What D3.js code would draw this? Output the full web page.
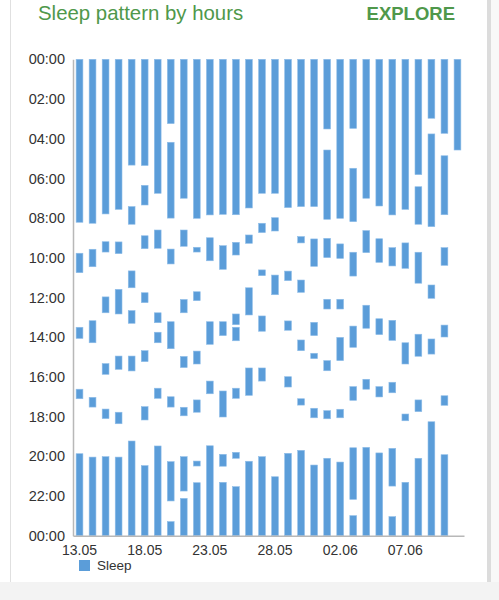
<!DOCTYPE html>
<html>
<head>
<meta charset="utf-8">
<script src="https://cdn.jsdelivr.net/npm/d3@7"></script>
<style>
  html, body { margin: 0; padding: 0; background: #ffffff; }
  svg { display: block; font-family: "Liberation Sans", Arial, Helvetica, sans-serif; }
</style>
</head>
<body>
<svg id="chart" width="499" height="600"></svg>
<script>
// ---- Data ----
const days = ["13.05","14.05","15.05","16.05","17.05","18.05","19.05","20.05","21.05","22.05",
              "23.05","24.05","25.05","26.05","27.05","28.05","29.05","30.05","31.05","01.06",
              "02.06","03.06","04.06","05.06","06.06","07.06","08.06","09.06","10.06","11.06"];

// Sleep intervals per day, in hours from 00:00 (start, end)
const sleepIntervals = [
  [[0,8.21],[9.77,10.75],[13.50,14.06],[16.62,17.10],[19.87,24]],
  [[0,8.26],[9.57,10.45],[13.17,14.28],[17.03,17.52],[20.04,24]],
  [[0,7.79],[9.19,9.71],[11.97,12.77],[15.33,15.87],[17.62,18.10],[20.02,24]],
  [[0,7.56],[9.20,9.79],[11.59,12.83],[14.95,15.62],[17.78,18.36],[20.04,24]],
  [[0,5.33],[7.42,8.31],[10.66,11.51],[12.66,13.30],[14.95,15.70],[19.23,24]],
  [[0,5.35],[6.35,7.34],[8.89,9.54],[11.76,12.26],[14.68,15.23],[17.50,18.17],[20.47,24]],
  [[0,6.75],[8.60,9.52],[12.77,13.27],[13.75,14.28],[16.57,17.08],[19.48,24]],
  [[0,3.24],[4.18,8.00],[9.56,10.31],[13.22,14.58],[17.00,17.52],[20.27,22.25],[23.29,24]],
  [[0,7.00],[8.60,9.42],[12.10,12.77],[14.97,15.53],[17.53,17.96],[20.02,21.75],[22.12,24]],
  [[0,8.01],[9.47,9.71],[11.71,12.16],[14.70,15.35],[17.16,17.78],[20.24,20.49],[21.33,24]],
  [[0,7.84],[8.99,10.15],[13.22,14.36],[16.21,16.85],[19.47,24]],
  [[0,7.81],[9.39,10.58],[13.22,13.92],[16.71,18.02],[19.90,20.50],[21.31,24]],
  [[0,7.83],[9.22,9.86],[12.83,13.37],[13.50,14.18],[16.57,17.08],[19.80,20.10],[21.53,24]],
  [[0,7.49],[8.85,9.27],[11.51,12.88],[15.55,16.93],[20.25,24]],
  [[0,6.75],[8.26,8.73],[10.61,10.90],[12.93,13.70],[15.55,16.21],[20.02,24]],
  [[0,6.75],[7.98,8.65],[10.87,11.86],[21.03,24]],
  [[0,7.47],[10.67,11.15],[13.18,13.65],[15.99,16.51],[19.85,24]],
  [[0,7.42],[8.93,9.25],[11.12,11.74],[14.14,14.68],[17.10,17.42],[19.70,24]],
  [[0,7.42],[9.05,10.43],[13.25,13.92],[14.81,15.08],[17.58,18.06],[20.44,24]],
  [[0,3.51],[4.57,8.06],[9.02,9.99],[12.09,12.58],[15.18,15.69],[17.70,18.11],[20.10,24]],
  [[0,8.01],[9.30,10.03],[12.09,12.58],[14.01,15.18],[17.63,18.06],[20.29,24]],
  [[0,3.48],[5.49,8.18],[9.72,10.92],[13.44,14.51],[16.49,17.18],[19.57,22.17],[22.99,24]],
  [[0,7.00],[8.63,9.74],[12.39,13.55],[16.12,16.62],[19.55,24]],
  [[0,7.39],[9.04,10.23],[13.07,13.87],[16.49,17.01],[19.83,24]],
  [[0,7.84],[9.49,10.41],[13.15,14.16],[16.27,16.80],[19.60,21.50],[23.04,24]],
  [[0,7.56],[9.25,10.53],[14.28,15.35],[17.87,18.21],[21.31,24]],
  [[0,5.81],[6.42,8.31],[9.72,11.28],[13.85,14.96],[17.16,17.75],[20.10,24]],
  [[0,2.97],[3.76,8.43],[11.37,12.04],[14.09,14.85],[18.26,24]],
  [[0,3.73],[4.86,7.83],[9.49,10.38],[13.39,13.99],[16.95,17.43],[19.92,24]],
  [[0,4.57]]
];

const yTickValues = [0,2,4,6,8,10,12,14,16,18,20,22,24];
const xTickLabels = ["13.05","18.05","23.05","28.05","02.06","07.06"];
const seriesName = "Sleep";
const chartTitle = "Sleep pattern by hours";
const actionLabel = "EXPLORE";

// ---- Drawing ----
const svg = d3.select("#chart");
const W = 499, H = 600;
const green = "#4f984b";
const barColor = "#5b9dd9";

// page chrome
svg.append("rect").attr("x", 0).attr("y", 582).attr("width", W).attr("height", H - 582).attr("fill", "#f3f3f3");
svg.append("line").attr("x1", 10.5).attr("x2", 10.5).attr("y1", 0).attr("y2", 582).attr("stroke", "#e0e0e0").attr("stroke-width", 1);
svg.append("rect").attr("x", 487).attr("y", 0).attr("width", 4).attr("height", 582).attr("fill", "#dcdcdc");
svg.append("rect").attr("x", 491).attr("y", 0).attr("width", 8).attr("height", 582).attr("fill", "#f8f8f8");

// title
svg.append("text").attr("x", 38).attr("y", 20).attr("fill", green)
  .attr("font-size", 20.4).text(chartTitle);
svg.append("text").attr("x", 455).attr("y", 20).attr("fill", green)
  .attr("font-size", 18.5).attr("font-weight", "bold").attr("text-anchor", "end").text(actionLabel);

const x = d3.scaleBand().domain(days).range([73, 464]).paddingInner(0.48).paddingOuter(0.24);
const y = d3.scaleLinear().domain([0, 24]).range([59.3, 535.7]);

const fmt = h => String(h % 24).padStart(2, "0") + ":00";

// bars
const segs = [];
sleepIntervals.forEach((list, i) => list.forEach(s => segs.push({day: days[i], s: s[0], e: s[1]})));
svg.append("g").selectAll("rect").data(segs).join("rect")
  .attr("x", d => x(d.day))
  .attr("width", x.bandwidth())
  .attr("y", d => y(d.s))
  .attr("height", d => y(d.e) - y(d.s))
  .attr("fill", barColor)
  .attr("stroke", "#8fbde8").attr("stroke-width", 0.6);

// y axis
const yAxis = svg.append("g").attr("transform", "translate(73,0)")
  .call(d3.axisLeft(y).tickValues(yTickValues).tickFormat(fmt).tickSize(0).tickPadding(8));
yAxis.select(".domain").attr("stroke", "#b8b8b8").attr("stroke-width", 1.5);
yAxis.selectAll("text").attr("font-size", 14.5).attr("fill", "#333").attr("font-family", "Liberation Sans, Arial, sans-serif");

// x axis
const xAxis = svg.append("g").attr("transform", "translate(0,535.7)")
  .call(d3.axisBottom(x).tickValues(xTickLabels).tickSize(0).tickPadding(9));
xAxis.select(".domain").attr("stroke", "#b8b8b8").attr("stroke-width", 1.5);
xAxis.selectAll("text").attr("font-size", 14).attr("fill", "#333").attr("font-family", "Liberation Sans, Arial, sans-serif");

// legend
svg.append("rect").attr("x", 79).attr("y", 560).attr("width", 11).attr("height", 11).attr("fill", barColor);
svg.append("text").attr("x", 97).attr("y", 566).attr("dominant-baseline", "middle")
  .attr("font-size", 13.5).attr("fill", "#333").text(seriesName);
</script>
</body>
</html>
